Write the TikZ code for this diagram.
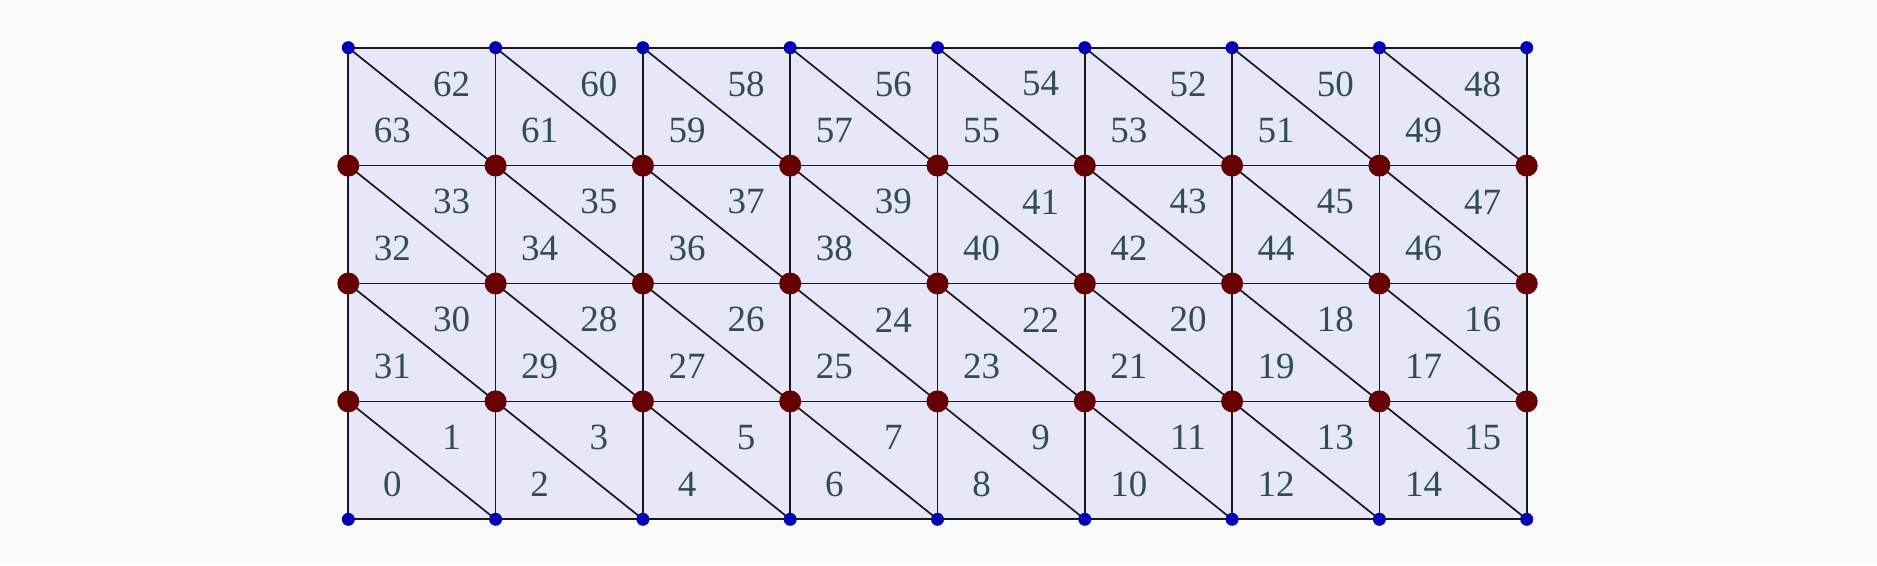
\documentclass[tikz,border=0pt]{standalone}
\usepackage{fontspec}
\setmainfont{Liberation Serif}
\definecolor{bgc}{HTML}{FAFAFA}
\definecolor{cellc}{HTML}{E7E7FA}
\definecolor{bluec}{HTML}{0000B4}
\definecolor{redc}{HTML}{660000}
\definecolor{txtc}{HTML}{2F4F4F}
\tikzset{
  edge/.style={draw=black!90, line width=1.7pt},
  bdot/.style={circle, fill=bluec, inner sep=0pt, minimum size=13pt},
  rdot/.style={circle, fill=redc, inner sep=0pt, minimum size=22pt},
  lab/.style={text=txtc, font=\fontsize{37}{40}\selectfont, inner sep=0pt},
}
\begin{document}
\begin{tikzpicture}[x=1pt,y=-1pt]
\useasboundingbox (0,0) rectangle (1877,565);
\fill[bgc] (0,0) rectangle (1877,565);
\foreach \c in {0,...,8}{
  \foreach \r in {0,...,4}{
    \coordinate (p-\c-\r) at ({348.3+147.3*\c},{47.7+117.9*\r});
  }
}
\fill[cellc] (p-0-0) rectangle (p-8-4);
\foreach \r in {0,...,4} \draw[edge] (p-0-\r) -- (p-8-\r);
\foreach \c in {0,...,8} \draw[edge] (p-\c-0) -- (p-\c-4);
\foreach \c in {0,...,7}{
  \foreach \r in {0,...,3}{
    \pgfmathtruncatemacro{\cc}{\c+1}
    \pgfmathtruncatemacro{\rr}{\r+1}
    \draw[edge] (p-\c-\r) -- (p-\cc-\rr);
  }
}
% labels
\foreach \c in {0,...,7}{
  \foreach \r in {0,...,3}{
    \pgfmathtruncatemacro{\ur}{\r==0 ? 48+2*(7-\c) : (\r==1 ? 33+2*\c : (\r==2 ? 16+2*(7-\c) : 2*\c+1))}
    \pgfmathtruncatemacro{\ll}{\r==0 ? 49+2*(7-\c) : (\r==1 ? 32+2*\c : (\r==2 ? 17+2*(7-\c) : 2*\c))}
    \node[lab] (t\ur) at ({348.3+147.3*\c+2*147.3/3+5},{47.7+117.9*\r+117.9/3-3}) {\ur};
    \node[lab] (t\ll) at ({348.3+147.3*\c+147.3/3-5},{47.7+117.9*\r+2*117.9/3+4}) {\ll};
  }
}
% dots
\foreach \c in {0,...,8}{
  \node[bdot] (d-\c-0) at (p-\c-0) {};
  \node[bdot] (d-\c-4) at (p-\c-4) {};
  \foreach \r in {1,2,3}{
    \node[rdot] (d-\c-\r) at (p-\c-\r) {};
  }
}
\end{tikzpicture}
\end{document}
